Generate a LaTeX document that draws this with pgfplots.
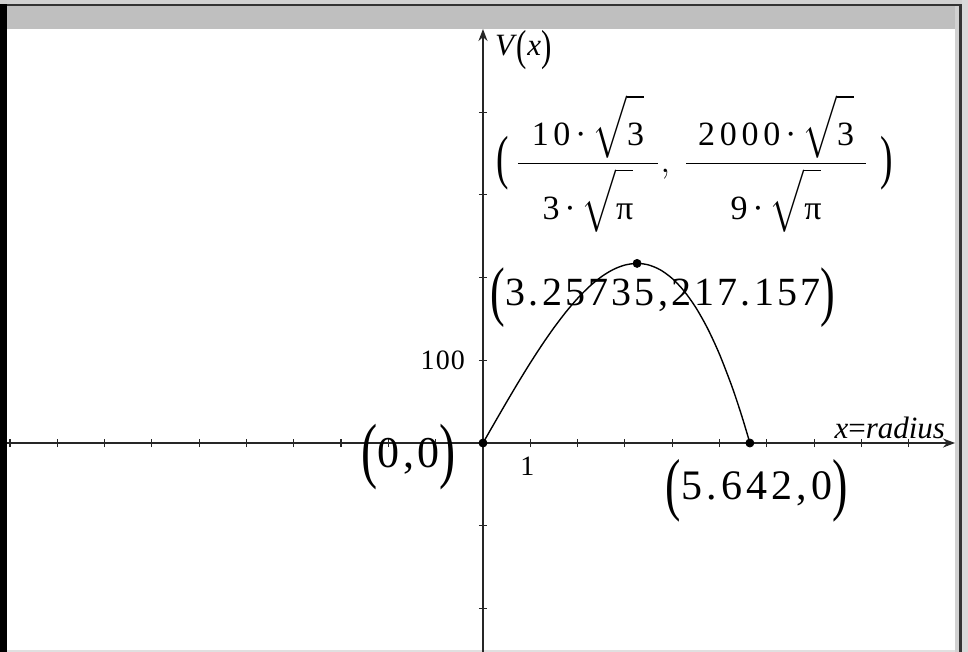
\documentclass[border=0pt]{standalone}
\usepackage{amsmath}
\usepackage{fontspec}
\setmainfont{Liberation Serif}
\usepackage{pgfplots}
\pgfplotsset{compat=1.18}
\usetikzlibrary{arrows.meta}

% tall parentheses used around the point labels
\newcommand{\lp}[1][-0.22em]{\raisebox{#1}{\scalebox{1.1}[1.65]{(}}}
\newcommand{\rp}[1][-0.22em]{\raisebox{#1}{\scalebox{1.1}[1.65]{)}}}
% struts that make the radical signs tall
\newcommand{\rs}{\rule[-4pt]{0pt}{24pt}}
\newcommand{\rd}{\rule[-5pt]{0pt}{27pt}}
\newcommand{\frfont}{\fontsize{17}{20}\selectfont\addfontfeature{LetterSpace=14}}

\begin{document}
\begin{tikzpicture}
\useasboundingbox (0,0) rectangle (484pt,326pt);
% window frame
\fill[white] (0,0) rectangle (484pt,326pt);
\fill[black!18] (0,324pt) rectangle (484pt,326pt);
\fill[black!80] (0,323pt) rectangle (481pt,324pt);
\fill[black!25] (3.5pt,311.5pt) rectangle (479.5pt,323pt);
\fill[black] (0,0) rectangle (3.5pt,324pt);
\fill[black!18] (477.5pt,0) rectangle (479.5pt,323pt);
\fill[black!80] (479.5pt,0) rectangle (481pt,324pt);
\fill[black!15] (481pt,0) rectangle (484pt,326pt);
\fill[black!12] (3.5pt,0) rectangle (477.5pt,1pt);

\begin{axis}[
  at={(3.5pt,0pt)}, anchor=south west,
  scale only axis, width=474pt, height=311.5pt,
  xmin=-10.063, xmax=9.979, ymin=-252.7, ymax=500.6,
  axis lines=middle,
  axis line style={line width=0.9pt, black!85, -{Stealth[length=6pt,width=4.5pt]}},
  tick align=center, major tick length=4pt,
  tick style={black!85, line width=0.6pt},
  xtick={-10,-9,-8,-7,-6,-5,-4,-3,-2,-1,2,3,4,5,6,7,8,9},
  xticklabels={},
  ytick={-200,-100,200,300,400},
  yticklabels={},
  extra x ticks={1}, extra x tick labels={1},
  extra y ticks={100}, extra y tick labels={100},
  extra tick style={grid=none},
  tick label style={font=\fontsize{14}{16}\selectfont\addfontfeature{LetterSpace=4}},
  xticklabel style={xshift=-1.5pt, yshift=-1.5pt},
  yticklabel style={xshift=-3.5pt},
  clip=false,
]
% volume of the cylinder as a function of its radius
\addplot[black, line width=0.7pt, smooth] coordinates {
  (0,0) (0.25,24.951) (0.5,49.607) (0.75,73.675) (1.0,96.858)
  (1.25,118.864) (1.5,139.397) (1.75,158.163) (2.0,174.867)
  (2.25,189.215) (2.5,200.913) (2.75,209.665) (3.0,215.177)
  (3.25735,217.157) (3.5,215.303) (3.75,209.330) (4.0,198.938)
  (4.25,183.834) (4.5,163.722) (4.75,138.310) (5.0,107.301)
  (5.25,70.402) (5.4,45.31) (5.5,27.320) (5.6,8.288) (5.642,0)
};
\addplot[only marks, mark=*, mark size=2pt, black] coordinates {
  (0,0) (3.25735,217.157) (5.642,0)
};

\node at (axis cs:0.85,475) {\fontsize{15.5}{18}\selectfont\textit{V}\raisebox{-0.15em}{\scalebox{1}[1.4]{(}}\textit{x}\raisebox{-0.15em}{\scalebox{1}[1.4]{)}}};
\node at (axis cs:8.6,18.1) {\fontsize{15.5}{18}\selectfont\textit{x}=\textit{radius}};

\node at (axis cs:-1.565,-16.9) {\fontsize{22}{26}\selectfont\addfontfeature{LetterSpace=8}\lp[-0.15em]0,0\rp[-0.15em]};
\node at (axis cs:5.79,-58) {\fontsize{21}{25}\selectfont\addfontfeature{LetterSpace=10}\lp[-0.2em]5.642,0\rp[-0.2em]};
\node at (axis cs:3.806,175.3) {\fontsize{20}{24}\selectfont\addfontfeature{LetterSpace=8}\lp3.25735,217.157\rp};

\node at (axis cs:4.48,338) {\frfont
  $\vcenter{\hbox{\scalebox{1.1}[1.75]{(}}}\kern3pt
  \dfrac{\kern7pt\hbox{10·}\kern3pt\sqrt{\rs\hbox{3}}\kern7pt}{\hbox{3·}\kern3pt\sqrt{\rd\hbox{π}}},\kern4pt
  \dfrac{\kern6pt\hbox{2000·}\kern3pt\sqrt{\rs\hbox{3}}\kern6pt}{\hbox{9·}\kern3pt\sqrt{\rd\hbox{π}}}\kern6pt
  \vcenter{\hbox{\scalebox{1.1}[1.75]{)}}}$};
\end{axis}
\end{tikzpicture}
\end{document}
